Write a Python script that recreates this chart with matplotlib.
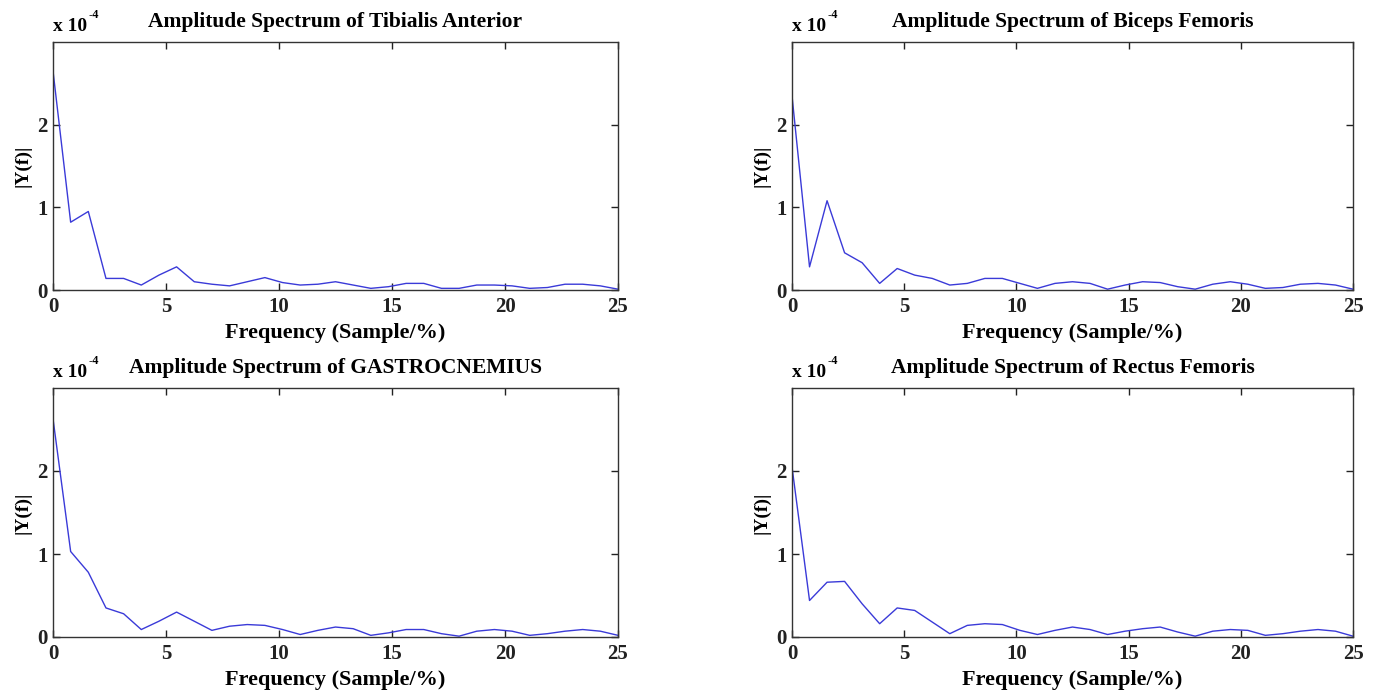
import numpy as np
import matplotlib
matplotlib.use("Agg")
import matplotlib.pyplot as plt

# frequency axis: 33 bins from 0 to 25 (Sample/%)
freq = np.linspace(0, 25, 33)

# amplitudes in units of 1e-4
tibialis_anterior = [2.65, 0.82, 0.95, 0.14, 0.14, 0.06, 0.18, 0.28, 0.10, 0.07, 0.05,
                     0.10, 0.15, 0.09, 0.06, 0.07, 0.10, 0.06, 0.02, 0.04, 0.08, 0.08,
                     0.02, 0.02, 0.06, 0.06, 0.05, 0.02, 0.03, 0.07, 0.07, 0.05, 0.01]
biceps_femoris = [2.35, 0.28, 1.08, 0.45, 0.33, 0.08, 0.26, 0.18, 0.14, 0.06, 0.08,
                  0.14, 0.14, 0.08, 0.02, 0.08, 0.10, 0.08, 0.01, 0.06, 0.10, 0.09,
                  0.04, 0.01, 0.07, 0.10, 0.07, 0.02, 0.03, 0.07, 0.08, 0.06, 0.01]
gastrocnemius = [2.63, 1.03, 0.78, 0.35, 0.28, 0.09, 0.19, 0.30, 0.19, 0.08, 0.13,
                 0.15, 0.14, 0.09, 0.03, 0.08, 0.12, 0.10, 0.02, 0.05, 0.09, 0.09,
                 0.04, 0.01, 0.07, 0.09, 0.07, 0.02, 0.04, 0.07, 0.09, 0.07, 0.02]
rectus_femoris = [2.05, 0.44, 0.66, 0.67, 0.40, 0.16, 0.35, 0.32, 0.18, 0.04, 0.14,
                  0.16, 0.15, 0.08, 0.03, 0.08, 0.12, 0.09, 0.03, 0.07, 0.10, 0.12,
                  0.06, 0.01, 0.07, 0.09, 0.08, 0.02, 0.04, 0.07, 0.09, 0.07, 0.01]

titles = ["Amplitude Spectrum of Tibialis Anterior",
          "Amplitude Spectrum of Biceps Femoris",
          "Amplitude Spectrum of GASTROCNEMIUS",
          "Amplitude Spectrum of Rectus Femoris"]
series = [tibialis_anterior, biceps_femoris, gastrocnemius, rectus_femoris]
xticks = [0, 5, 10, 15, 20, 25]
yticks = [0, 1, 2]
xlabel = "Frequency (Sample/%)"
ylabel = "|Y(f)|"

plt.rcParams['font.family'] = ['Liberation Serif', 'DejaVu Serif']
plt.rcParams['font.weight'] = 'bold'
plt.rcParams['axes.unicode_minus'] = False

W, H = 1383, 695
fig = plt.figure(figsize=(W / 100, H / 100), dpi=100)
fig.patch.set_facecolor('white')

# (left, top, right, bottom) in pixels
boxes = [(53, 42, 618, 290), (792, 42, 1353, 290),
         (53, 388, 618, 637), (792, 388, 1353, 637)]

for (l, t, r, b), title, ys in zip(boxes, titles, series):
    ax = fig.add_axes([l / W, 1 - b / H, (r - l) / W, (b - t) / H])
    ax.plot(freq, ys, color='#3a3ad8', lw=1.0)
    ax.set_xlim(0, 25)
    ax.set_ylim(0, 3)
    ax.set_xticks(xticks)
    ax.set_yticks(yticks)
    ax.tick_params(direction='in', top=True, right=True, length=5, width=1,
                   labelsize=15, colors='#222222')
    ax.tick_params(axis='x', pad=5)
    ax.tick_params(axis='y', pad=4)
    for lab in ax.get_xticklabels() + ax.get_yticklabels():
        lab.set_fontweight('bold')
    for sp in ax.spines.values():
        sp.set_color('#333333')
        sp.set_linewidth(1.0)
    ax.set_title(title, fontsize=15.5, fontweight='bold', pad=11)
    ax.set_xlabel(xlabel, fontsize=16, fontweight='bold', labelpad=4)
    ax.set_ylabel(ylabel, fontsize=14, fontweight='bold', labelpad=4)
    ax.text(0.0, 1.03, 'x 10', transform=ax.transAxes,
            fontsize=14, fontweight='bold', ha='left', va='bottom')
    ax.text(0.0625, 1.085, '-4', transform=ax.transAxes,
            fontsize=9, fontweight='bold', ha='left', va='bottom')

fig.savefig('out.png', dpi=100, facecolor='white')
